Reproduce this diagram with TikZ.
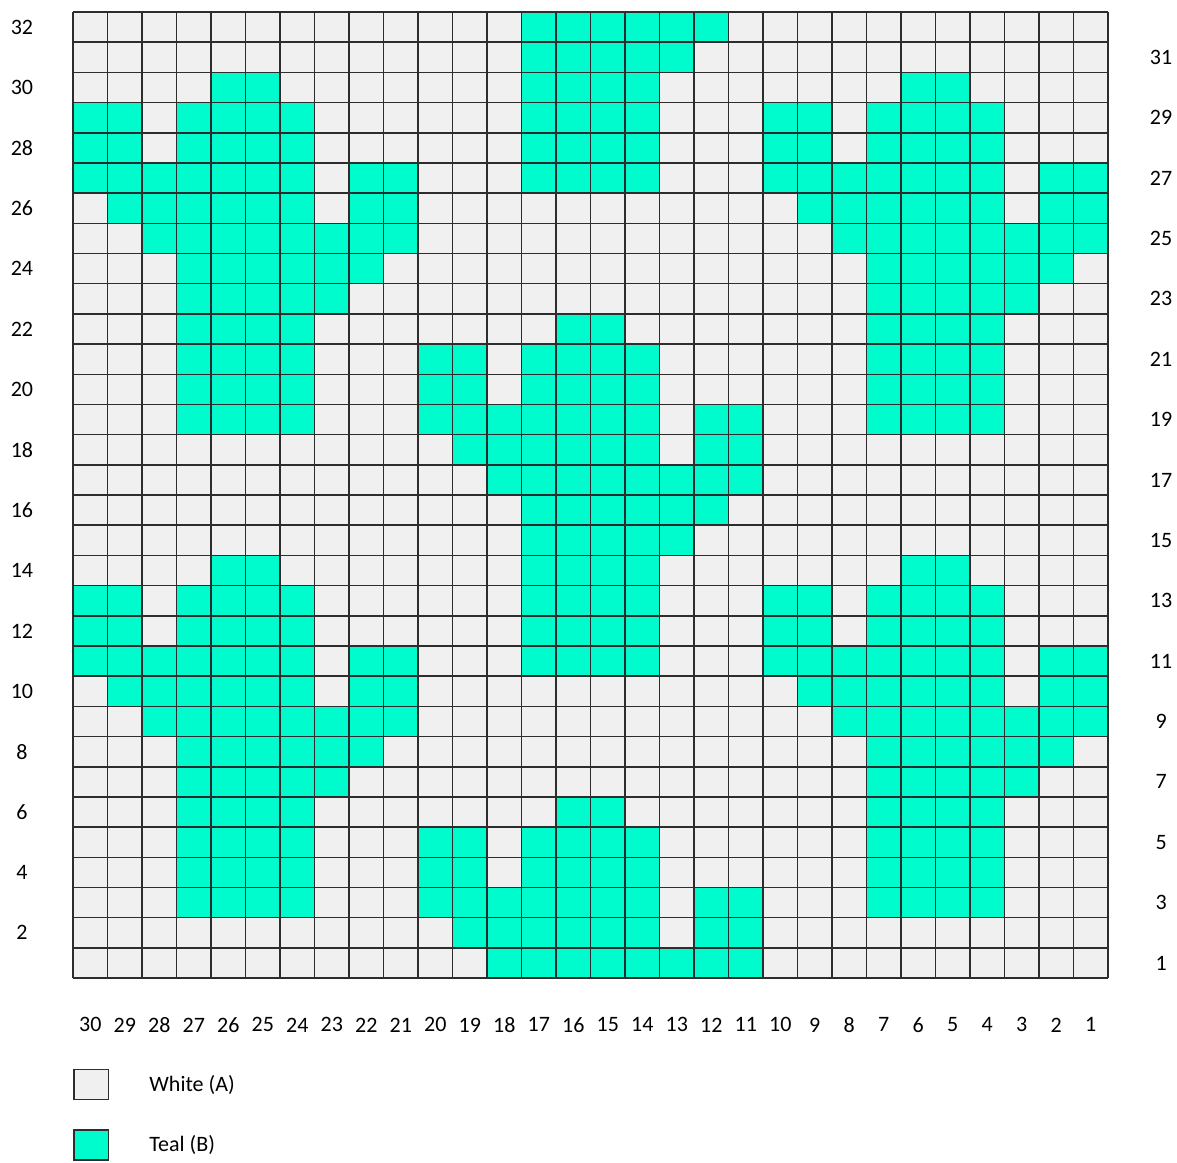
\documentclass[tikz,border=0pt]{standalone}
\usepackage{fontspec}
\setmainfont{Carlito}
\usepackage{tikz}
\usetikzlibrary{positioning}
\definecolor{yarnwhite}{RGB}{240,240,240}
\definecolor{yarnteal}{RGB}{0,252,204}
\definecolor{gridink}{RGB}{45,45,45}

% one mitten motif, top left cell at column #1, row #2 (counted from the top)
\newcommand{\mitten}[2]{%
  \foreach \k/\a/\b in {0/4/5,1/0/1,1/3/6,2/0/1,2/3/6,3/0/6,3/8/9,4/1/6,4/8/9,
                        5/2/9,6/3/8,7/3/7,8/3/6,9/3/6,10/3/6,11/3/6}
    \fill[yarnteal] ({#1+\a},{#2+\k}) rectangle ({#1+\b+1},{#2+\k+1});
}

\begin{document}
\begin{tikzpicture}[x=0.5pt, y=-0.5pt,
  lab/.style={font=\fontsize{11}{13}\selectfont, inner sep=0pt},
  keybox/.style={draw=gridink, line width=0.75pt, minimum width=17.25pt, minimum height=15.1pt, inner sep=0pt, anchor=north west},
  gridline/.style={draw=gridink, line width=0.75pt}
]
\useasboundingbox (0,0) rectangle (1177,1162);
\begin{scope}[shift={(73,12)}, x=17.25pt, y=-15.095pt]
  % chart cells
  \fill[yarnwhite] (0,0) rectangle (30,32);
  \begin{scope}
    \clip (0,0) rectangle (30,32);
    \mitten{0}{2} \mitten{0}{18}
    \mitten{20}{2} \mitten{20}{18}
    \mitten{10}{-6} \mitten{10}{10} \mitten{10}{26}
  \end{scope}
  \foreach \i in {0,...,30} \draw[gridline] (\i,0) -- (\i,32);
  \foreach \j in {0,...,32} \draw[gridline] (0,\j) -- (30,\j);
  % row and stitch numbers
  \foreach \r in {2,4,...,32} \node[lab] (r\r) at (-1.48,32.5-\r) {\r};
  \foreach \r in {1,3,...,31} \node[lab] (r\r) at (31.54,32.5-\r) {\r};
  \foreach \c in {1,...,30} \node[lab] (c\c) at (30.5-\c,33.55) {\c};
  % key
  \node[keybox, fill=yarnwhite] (keyA) at (0,35) {};
  \node[lab, right=20pt of keyA] (txtA) {White (A)};
  \node[keybox, fill=yarnteal] (keyB) at (0,37) {};
  \node[lab, right=20pt of keyB] (txtB) {Teal (B)};
\end{scope}
\end{tikzpicture}
\end{document}
